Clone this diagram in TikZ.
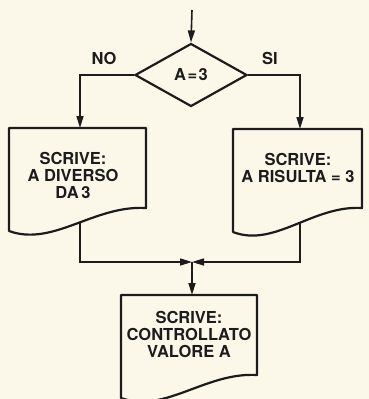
\documentclass[tikz,border=0pt]{standalone}
\usepackage{fontspec}
\setmainfont{TeX Gyre Heros}
\usetikzlibrary{arrows.meta,shapes.geometric}
\definecolor{paper}{HTML}{FBF8EA}
\definecolor{ink}{HTML}{1C1C1C}
\newcommand\mydoc[6]{% name, x0, x1, ytop, yleft, yright
  \path[docbox] (#3,#4) -- (#2,#4) -- (#2,#5)
    .. controls ({#2+0.32*(#3-#2)},{#5+16}) and ({#2+0.62*(#3-#2)},{#6-3}) .. (#3,#6) -- cycle;}
\tikzset{
  docbox/.style={draw=ink, line width=2.2pt, fill=paper, line join=round},
  conn/.style={draw=ink, line width=1.6pt, -{Triangle[length=12pt,width=7pt]}},
  txt/.style={font=\bfseries\fontsize{16.5}{17}\selectfont, text=ink, align=center, inner sep=0pt},
  dec/.style={diamond, draw=ink, line width=2.2pt, fill=paper, minimum width=112pt, minimum height=63pt, inner sep=0pt}
}
\begin{document}
\begin{tikzpicture}[x=1pt,y=-1pt]
\fill[paper] (0,0) rectangle (369,399);
\useasboundingbox (0,0) rectangle (369,399);
% coordinates
\coordinate (start) at (192,10);
\coordinate (lt) at (80,128);
\coordinate (rt) at (300,129);
\coordinate (lb) at (80,215);
\coordinate (rb) at (300,215);
\coordinate (m) at (192,262);
\coordinate (bt) at (192,295);
% decision
\node[dec] (d) at (191,75) {};
% connectors
\draw[conn] (start) -- (d.north);
\draw[conn] (d.west) -| (lt);
\draw[conn] (d.east) -| (rt);
\draw[conn] (lb) |- (m);
\draw[conn] (rb) |- (m);
\draw[conn] (m) -- (bt);
% boxes
\mydoc{lbox}{9}{146}{128}{231}{208}
\mydoc{rbox}{233}{362}{129}{232}{208}
\mydoc{bbox}{121}{257}{295}{398}{375}
% texts
\node[txt] (dt) at (191,75) {A\kern1.5pt=\kern1.5pt3};
\node[txt] (no) at (104,58) {NO};
\node[txt] (si) at (270,58) {SI};
\node[txt] (lt1) at (73,175) {SCRIVE:\\A DIVERSO\\DA\,3};
\node[txt] (rt1) at (298,168) {SCRIVE:\\A RISULTA = 3};
\node[txt] (bt1) at (189,334) {SCRIVE:\\CONTROLLATO\\VALORE A};
\end{tikzpicture}
\end{document}
